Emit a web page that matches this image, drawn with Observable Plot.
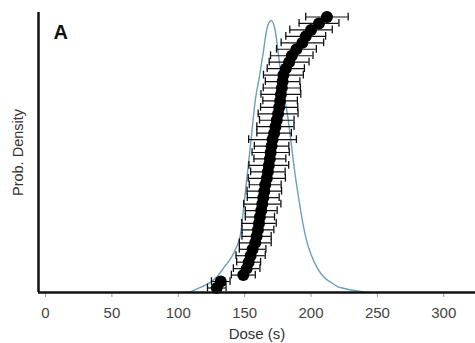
<!DOCTYPE html>
<html>
<head>
<meta charset="utf-8">
<script src="https://cdn.jsdelivr.net/npm/d3@7"></script>
<script src="https://cdn.jsdelivr.net/npm/@observablehq/plot@0.6"></script>
<style>
  html, body { margin: 0; padding: 0; background: #fff; }
  #chart svg { display: block; }
</style>
</head>
<body>
<div id="chart"></div>
<script>
// Equivalent doses (s), sorted, with their 1-sigma errors (s)
const doses = [129,132,149,151.5,153,154.5,156,158,159,160,160.8,161.5,162.5,163.3,164,164.8,165.5,166.7,167.5,168.2,169,169.6,170.3,171,172.2,173.2,174.2,175.2,176,176.7,177.3,178,178.6,179.2,181,183.5,185.5,189,193.5,196,200,206,212];
const errors = [7,7,9,10,9,11,10,12,11,12,13,11,12,14,12,13,12,14,13,15,12,14,13,18,13,14,13,15,14,13,15,14,13,15,14,15,16,15,16,15,16,15,16];

// Kernel density estimate (relative, peak = 1)
const kdeDose = [105,110,115,120,125,130,135,140,144,147,149,151,155,158,161,164,167,170,173,176,179,182,185,188,191,194,197,200,205,210,215,220,225,230,235,240,245];
const kdeDensity = [0,0.004,0.015,0.026,0.040,0.063,0.096,0.129,0.169,0.217,0.301,0.390,0.570,0.706,0.790,0.882,0.974,1.0,0.963,0.853,0.735,0.662,0.551,0.434,0.338,0.250,0.184,0.140,0.088,0.055,0.037,0.022,0.015,0.009,0.006,0.002,0];

const xTicks = [0,50,100,150,200,250,300];
const xLabel = "Dose (s)";
const yLabel = "Prob. Density";
const panelLabel = "A";

const pts = doses.map((d, i) => ({rank: i + 1, dose: d, lo: d - errors[i], hi: d + errors[i]}));
const kde = kdeDose.map((d, i) => ({dose: d, dens: kdeDensity[i]}));
const yMin = 0.3, yMax = 43.7;
const densToRank = 42.17;
const xMin = -5.3, xMax = 323.9;
const font = "'Liberation Sans', Arial, sans-serif";
const capH = 0.6;

const chart = Plot.plot({
  width: 475,
  height: 343,
  marginLeft: 38,
  marginRight: 0,
  marginTop: 12,
  marginBottom: 51,
  style: {fontFamily: font, background: "#fff", color: "#333"},
  x: {domain: [xMin, xMax]},
  y: {domain: [yMin, yMax], axis: null},
  marks: [
    Plot.axisX({ticks: xTicks, tickSize: 5, tickPadding: 10, fontSize: 15, label: null, stroke: "#999", fill: "#444"}),
    Plot.line(kde, {x: "dose", y: d => yMin + d.dens * densToRank, stroke: "#6aa0b9", strokeWidth: 1.4, curve: "monotone-x"}),
    Plot.ruleY(pts, {y: "rank", x1: "lo", x2: "hi", stroke: "#111", strokeWidth: 1.2}),
    Plot.ruleX(pts, {x: "lo", y1: d => d.rank - capH, y2: d => d.rank + capH, stroke: "#111", strokeWidth: 1.3}),
    Plot.ruleX(pts, {x: "hi", y1: d => d.rank - capH, y2: d => d.rank + capH, stroke: "#111", strokeWidth: 1.3}),
    Plot.dot(pts, {x: "dose", y: "rank", r: 6, fill: "#000", stroke: null}),
    Plot.ruleY([yMin], {stroke: "#111", strokeWidth: 2.5}),
    Plot.ruleX([xMin], {stroke: "#111", strokeWidth: 2.5}),
    Plot.text([xLabel], {frameAnchor: "bottom", lineAnchor: "middle", textAnchor: "middle", dy: 42, fontSize: 15, fill: "#333"}),
    Plot.text([yLabel], {frameAnchor: "left", lineAnchor: "middle", textAnchor: "middle", dx: -20, rotate: -90, fontSize: 14.5, fill: "#333"}),
    Plot.text([panelLabel], {frameAnchor: "top-left", lineAnchor: "top", dx: 15, dy: 12, textAnchor: "start", fontSize: 20, fontWeight: "bold", fill: "#111"})
  ]
});
document.getElementById("chart").appendChild(chart);
</script>
</body>
</html>
